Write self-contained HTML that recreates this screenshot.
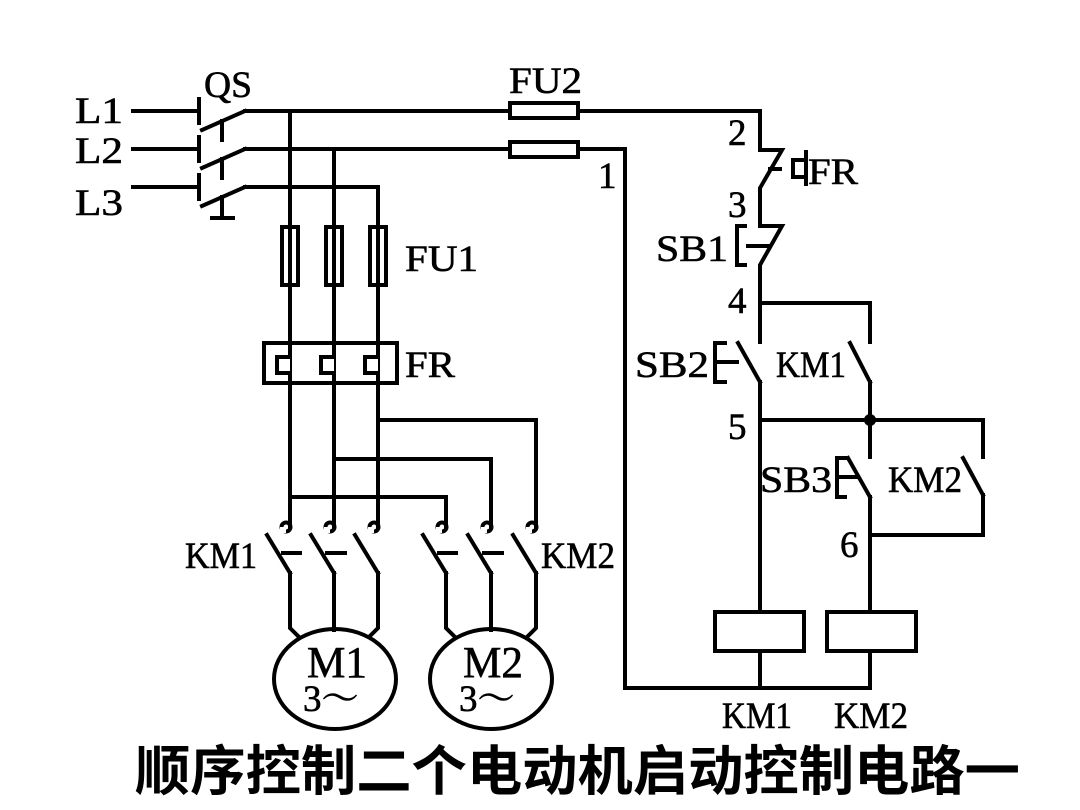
<!DOCTYPE html>
<html><head><meta charset="utf-8"><style>
html,body{margin:0;padding:0;background:#fff}
svg{display:block}
text{font-family:"Liberation Serif","Noto Serif CJK SC",serif;fill:#000;stroke:#000;stroke-width:0.6}
</style></head><body>
<svg width="1080" height="810" viewBox="0 0 1080 810" xmlns="http://www.w3.org/2000/svg">
<g stroke="#000" stroke-width="4" fill="none" stroke-linecap="square">
<line x1="133" y1="111" x2="198" y2="111"/>
<line x1="133" y1="149" x2="198" y2="149"/>
<line x1="133" y1="187" x2="198" y2="187"/>
<line x1="199" y1="99" x2="199" y2="123"/>
<line x1="199" y1="137" x2="199" y2="161"/>
<line x1="199" y1="175" x2="199" y2="199"/>
<line x1="202" y1="130" x2="245" y2="111"/>
<line x1="202" y1="168" x2="245" y2="149"/>
<line x1="202" y1="206" x2="245" y2="187"/>
<line x1="222" y1="121" x2="222" y2="140"/>
<line x1="222" y1="159" x2="222" y2="178"/>
<line x1="222" y1="197" x2="222" y2="218"/>
<line x1="212" y1="218" x2="233" y2="218"/>
<line x1="245" y1="111" x2="510" y2="111"/>
<line x1="578" y1="111" x2="760" y2="111"/>
<line x1="245" y1="149" x2="510" y2="149"/>
<line x1="578" y1="149" x2="625" y2="149"/>
<line x1="245" y1="187" x2="378" y2="187"/>
<rect x="510" y="103" width="68" height="15"/>
<rect x="510" y="142" width="68" height="15"/>
<line x1="290" y1="111" x2="290" y2="527"/>
<line x1="334" y1="149" x2="334" y2="527"/>
<line x1="378" y1="187" x2="378" y2="527"/>
<rect x="282" y="227" width="16" height="58" fill="#fff"/>
<rect x="326" y="227" width="16" height="58" fill="#fff"/>
<rect x="370" y="227" width="16" height="58" fill="#fff"/>
<line x1="290" y1="227" x2="290" y2="285"/>
<line x1="334" y1="227" x2="334" y2="285"/>
<line x1="378" y1="227" x2="378" y2="285"/>
<rect x="264" y="343" width="133" height="40"/>
<path d="M290 343 V357 H277 V373 H290" fill="#fff"/>
<path d="M334 343 V357 H321 V373 H334" fill="#fff"/>
<path d="M378 343 V357 H365 V373 H378" fill="#fff"/>
<path d="M378 420 H536 V527"/>
<path d="M334 459 H491 V527"/>
<path d="M290 497 H446 V527"/>
<g>
<circle cx="286" cy="527" r="4.5"/><circle cx="330" cy="527" r="4.5"/><circle cx="374" cy="527" r="4.5"/>
<circle cx="442" cy="527" r="4.5"/><circle cx="487" cy="527" r="4.5"/><circle cx="532" cy="527" r="4.5"/>
</g>
<g fill="#fff" stroke="none">
<rect x="280" y="527" width="6" height="6"/><rect x="324" y="527" width="6" height="6"/><rect x="368" y="527" width="6" height="6"/>
<rect x="436" y="527" width="6" height="6"/><rect x="481" y="527" width="6" height="6"/><rect x="526" y="527" width="6" height="6"/>
</g>
<line x1="267" y1="535" x2="290" y2="573"/>
<line x1="311" y1="535" x2="334" y2="573"/>
<line x1="355" y1="535" x2="378" y2="573"/>
<line x1="423" y1="535" x2="446" y2="573"/>
<line x1="468" y1="535" x2="491" y2="573"/>
<line x1="513" y1="535" x2="536" y2="573"/>
<line x1="283" y1="553" x2="300" y2="553"/>
<line x1="327" y1="553" x2="345" y2="553"/>
<line x1="439" y1="553" x2="456" y2="553"/>
<line x1="484" y1="553" x2="502" y2="553"/>
<path d="M290 573 V628 L298 636"/>
<path d="M334 573 V630"/>
<path d="M378 573 V628 L370 636"/>
<path d="M446 573 V628 L454 636"/>
<path d="M491 573 V630"/>
<path d="M536 573 V628 L528 636"/>
<ellipse cx="335" cy="679" rx="61" ry="50"/>
<ellipse cx="491" cy="679" rx="61" ry="50"/>
<path d="M625 149 V688 H870"/>
<path d="M760 111 V150 H782 L760 188 V226 H782 L760 265 V342"/>
<line x1="770" y1="169" x2="780" y2="169"/>
<path d="M806 152 V184 M806 160 H793 V177 H806"/>
<path d="M745 226 H737 V265 H745"/>
<line x1="748" y1="246" x2="770" y2="246"/>
<path d="M760 303 H870 V342"/>
<line x1="738" y1="343" x2="760" y2="382"/>
<path d="M725 343 H715 V382 H725"/>
<line x1="715" y1="362" x2="737" y2="362"/>
<line x1="850" y1="343" x2="870" y2="382"/>
<line x1="760" y1="382" x2="760" y2="612"/>
<line x1="870" y1="382" x2="870" y2="457"/>
<path d="M760 420 H983 V457"/>
<line x1="848" y1="458" x2="870" y2="497"/>
<path d="M845 458 H837 V497 H845"/>
<line x1="837" y1="477" x2="857" y2="477"/>
<line x1="963" y1="458" x2="983" y2="495"/>
<path d="M983 495 V535 H870"/>
<line x1="870" y1="497" x2="870" y2="612"/>
<rect x="715" y="612" width="89" height="39"/>
<rect x="827" y="612" width="89" height="39"/>
<line x1="760" y1="651" x2="760" y2="688"/>
<line x1="870" y1="651" x2="870" y2="688"/>
</g>
<circle cx="870" cy="420" r="6" fill="#000"/>
<g font-size="37">
<text x="75" y="123" textLength="48" lengthAdjust="spacingAndGlyphs">L1</text>
<text x="75" y="163" textLength="48" lengthAdjust="spacingAndGlyphs">L2</text>
<text x="75" y="215" textLength="48" lengthAdjust="spacingAndGlyphs">L3</text>
<text x="204" y="97" textLength="48" lengthAdjust="spacingAndGlyphs">QS</text>
<text x="509" y="93" textLength="73" lengthAdjust="spacingAndGlyphs">FU2</text>
<text x="598" y="188">1</text>
<text x="405" y="271" textLength="73" lengthAdjust="spacingAndGlyphs">FU1</text>
<text x="405" y="377" textLength="50" lengthAdjust="spacingAndGlyphs">FR</text>
<text x="728" y="145">2</text>
<text x="808" y="184" textLength="50" lengthAdjust="spacingAndGlyphs">FR</text>
<text x="728" y="217">3</text>
<text x="656" y="261" textLength="72" lengthAdjust="spacingAndGlyphs">SB1</text>
<text x="728" y="313">4</text>
<text x="635" y="377" textLength="74" lengthAdjust="spacingAndGlyphs">SB2</text>
<text x="776" y="377" textLength="70" lengthAdjust="spacingAndGlyphs">KM1</text>
<text x="728" y="439">5</text>
<text x="760" y="492" textLength="72" lengthAdjust="spacingAndGlyphs">SB3</text>
<text x="888" y="492" textLength="74" lengthAdjust="spacingAndGlyphs">KM2</text>
<text x="840" y="557">6</text>
<text x="185" y="568" textLength="72" lengthAdjust="spacingAndGlyphs">KM1</text>
<text x="541" y="568" textLength="74" lengthAdjust="spacingAndGlyphs">KM2</text>
<text x="722" y="728" textLength="70" lengthAdjust="spacingAndGlyphs">KM1</text>
<text x="834" y="728" textLength="74" lengthAdjust="spacingAndGlyphs">KM2</text>
<text x="307" y="677" font-size="44" textLength="60" lengthAdjust="spacingAndGlyphs">M1</text>
<text x="303" y="711">3～</text>
<text x="463" y="677" font-size="44" textLength="60" lengthAdjust="spacingAndGlyphs">M2</text>
<text x="459" y="711">3～</text>
</g>
<text x="135" y="790" font-size="54" font-weight="bold" style="font-family:'Noto Sans CJK SC',sans-serif;stroke-width:0" textLength="885" lengthAdjust="spacingAndGlyphs">顺序控制二个电动机启动控制电路一</text>
</svg>
</body></html>
